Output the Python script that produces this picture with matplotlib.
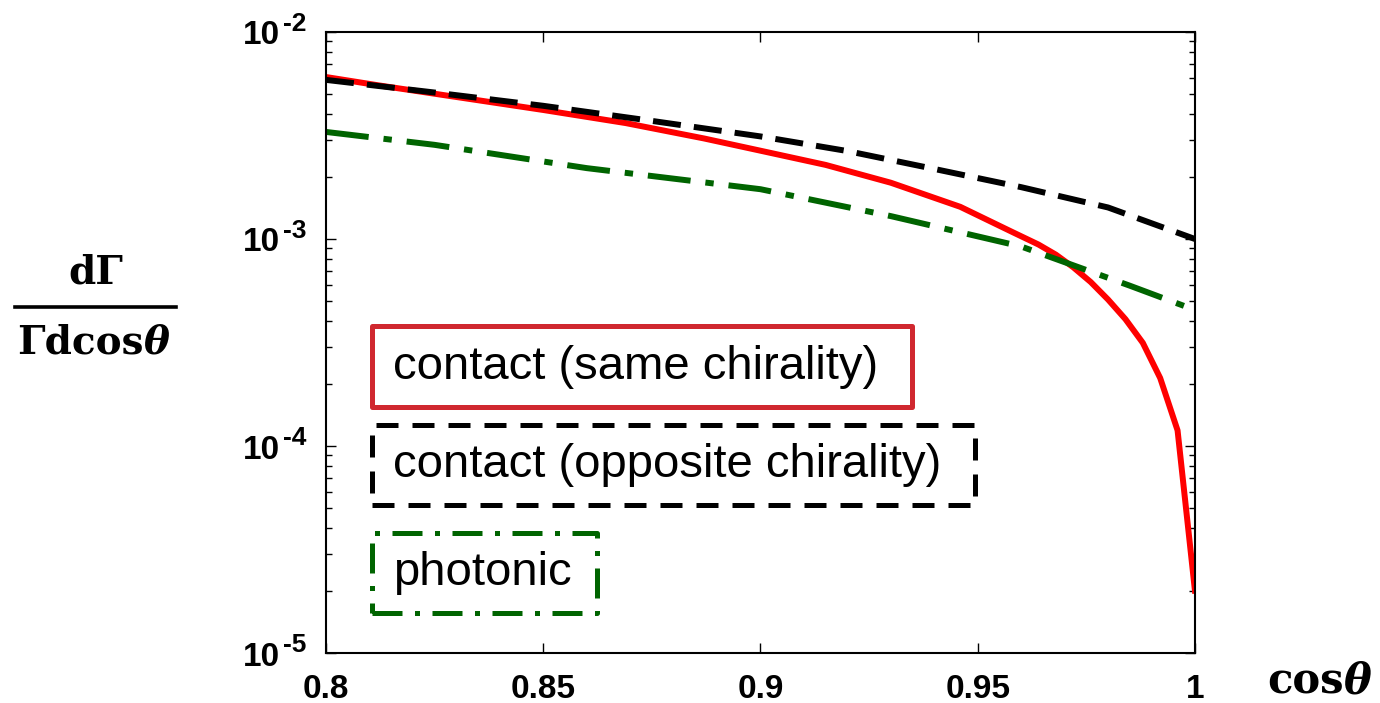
import matplotlib
matplotlib.use("Agg")
import matplotlib.pyplot as plt
from matplotlib.patches import Rectangle
from matplotlib.lines import Line2D

plt.rcParams['font.family'] = ['Liberation Sans', 'DejaVu Sans']

# contact (same chirality)
red_x = [0.80, 0.8117, 0.85, 0.869, 0.887, 0.90, 0.915, 0.93, 0.946, 0.958,
         0.964, 0.968, 0.972, 0.976, 0.980, 0.984, 0.988, 0.992, 0.996, 1.000]
red_y = [6.06e-3, 5.54e-3, 4.20e-3, 3.63e-3, 3.06e-3, 2.67e-3, 2.28e-3, 1.87e-3, 1.43e-3, 1.08e-3,
         9.4e-4, 8.4e-4, 7.3e-4, 6.2e-4, 5.1e-4, 4.1e-4, 3.15e-4, 2.13e-4, 1.19e-4, 2.0e-5]

# contact (opposite chirality)
black_x = [0.80, 0.825, 0.85, 0.875, 0.90, 0.92, 0.94, 0.96, 0.98, 1.00]
black_y = [5.87e-3, 5.10e-3, 4.40e-3, 3.72e-3, 3.13e-3, 2.66e-3, 2.18e-3, 1.78e-3, 1.42e-3, 1.00e-3]

# photonic
green_x = [0.80, 0.825, 0.86, 0.90, 0.93, 0.96, 0.985, 1.00]
green_y = [3.29e-3, 2.85e-3, 2.20e-3, 1.74e-3, 1.29e-3, 9.2e-4, 5.95e-4, 4.54e-4]

x_ticks = [0.8, 0.85, 0.9, 0.95, 1.0]
x_ticklabels = ['0.8', '0.85', '0.9', '0.95', '1']
y_ticks = [1e-5, 1e-4, 1e-3, 1e-2]
y_exponents = ['-5', '-4', '-3', '-2']

labels = ['contact (same chirality)', 'contact (opposite chirality)', 'photonic']

fig = plt.figure(figsize=(13.8, 7.03), dpi=100)
ax = fig.add_axes([0.2362, 0.0711, 0.6297, 0.8834])

ax.plot(red_x, red_y, color='#ff0000', lw=4.3, solid_joinstyle='round')
ax.plot(black_x, black_y, color='black', lw=4.3, dashes=(4.7, 2.2), dash_capstyle='butt')
ax.plot(green_x, green_y, color='#006400', lw=4.3, dashes=(7.2, 2.5, 1.4, 2.5), dash_capstyle='butt')

ax.set_yscale('log')
ax.set_xlim(0.8, 1.0)
ax.set_ylim(1e-5, 1e-2)
ax.set_xticks(x_ticks)
ax.set_xticklabels(x_ticklabels, fontweight='bold')
ax.set_yticks(y_ticks)
ax.set_yticklabels([])
ax.yaxis.set_minor_formatter(matplotlib.ticker.NullFormatter())

ax.tick_params(which='both', direction='in', top=True, right=True, width=1.0)
ax.tick_params(axis='x', which='major', length=7, labelsize=24, pad=15)
ax.tick_params(axis='y', which='major', length=7)
ax.tick_params(axis='y', which='minor', length=4)
for s in ax.spines.values():
    s.set_linewidth(1.5)

# y tick labels as 10 with a raised exponent, like the original
for v, e in zip(y_ticks, y_exponents):
    ax.annotate('10', xy=(0, v), xycoords=('axes fraction', 'data'),
                xytext=(-46, -4), textcoords='offset pixels', ha='right', va='center',
                fontsize=24, fontweight='bold', annotation_clip=False)
    ax.annotate(e, xy=(0, v), xycoords=('axes fraction', 'data'),
                xytext=(-43, 8), textcoords='offset pixels', ha='left', va='center',
                fontsize=19, fontweight='bold', annotation_clip=False)

# legend boxes
box_specs = [
    (0.0529, 0.3961, 0.6214, 0.1305, '#d0282f', '-'),
    (0.0529, 0.2383, 0.6939, 0.1288, 'black', (0, (4.4, 2.8))),
    (0.0529, 0.0644, 0.2590, 0.1288, '#006400', (0, (6.0, 2.5, 1.0, 2.5))),
]
for (x0, y0, w, h, c, ls), lab in zip(box_specs, labels):
    ax.add_patch(Rectangle((x0, y0), w, h, transform=ax.transAxes, fill=False,
                           ec=c, lw=3.6, ls=ls, joinstyle='round', capstyle='butt'))
    ax.text(0.0771, y0 + h / 2, lab, transform=ax.transAxes, fontsize=34,
            va='center', ha='left', color='black')

# axis labels
serif = dict(family='DejaVu Serif', weight='bold', fontsize=28)
theta = dict(family='DejaVu Serif', weight='bold', style='italic', fontsize=28)
fig.text(96 / 1380, 1 - 284 / 703, 'd\u0393', ha='center', va='baseline', **serif)
fig.add_artist(Line2D([15 / 1380, 176 / 1380], [1 - 307 / 703, 1 - 307 / 703],
                      color='black', lw=2.6, transform=fig.transFigure))
t1 = fig.text(17 / 1380, 1 - 353 / 703, '\u0393dcos', ha='left', va='baseline', **serif)
ax.annotate('\u03b8', xy=(1, 0), xycoords=t1, va='bottom', ha='left',
            annotation_clip=False, **theta)

xl_serif = dict(serif, fontsize=30)
xl_theta = dict(theta, fontsize=30)
t2 = fig.text(1267 / 1380, 1 - 694 / 703, 'cos', ha='left', va='baseline', **xl_serif)
ax.annotate('\u03b8', xy=(1, 0), xycoords=t2, va='bottom', ha='left',
            annotation_clip=False, **xl_theta)

fig.savefig('out.png', dpi=100)
